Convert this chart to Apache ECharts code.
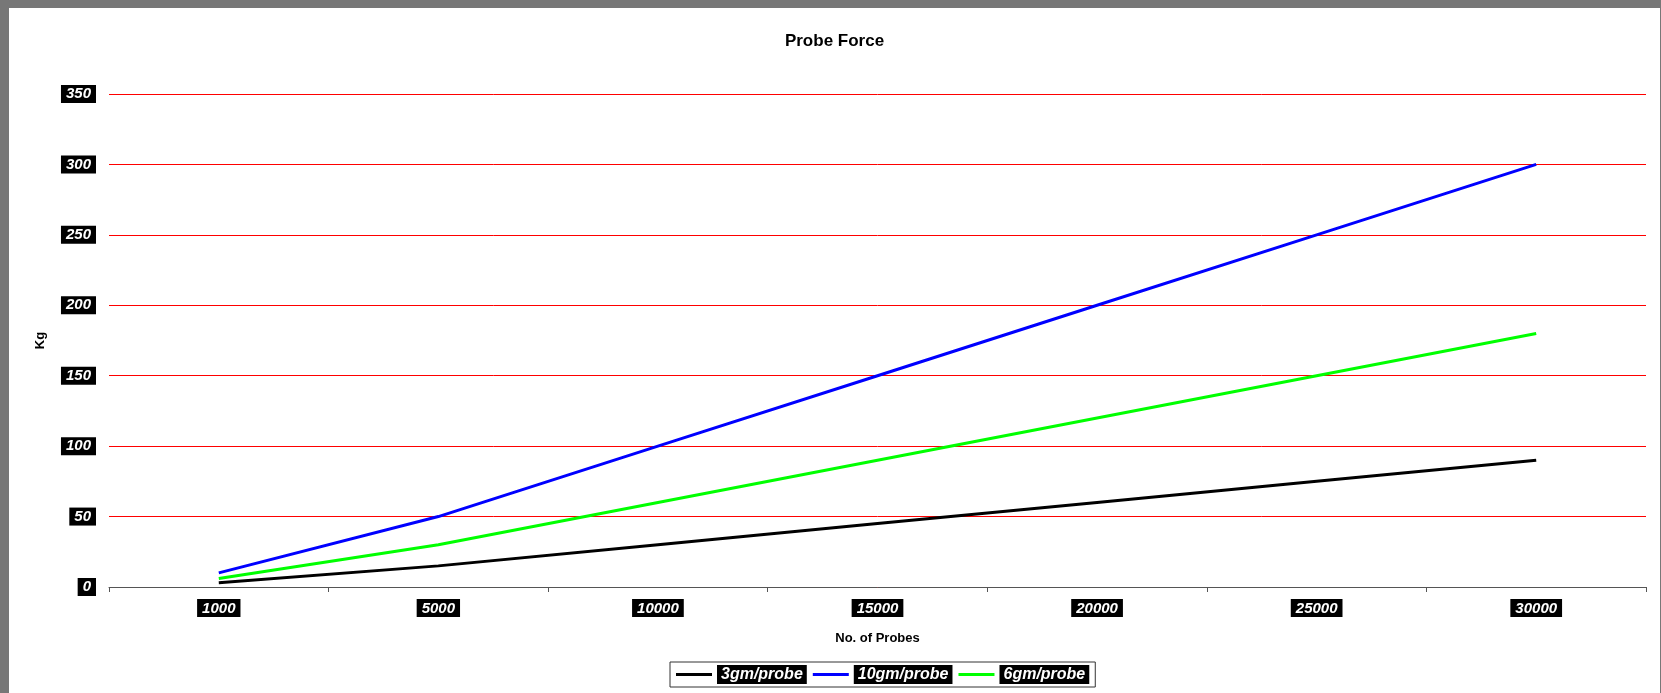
<!DOCTYPE html>
<html>
<head>
<meta charset="utf-8">
<script src="https://cdn.jsdelivr.net/npm/echarts@6/dist/echarts.min.js"></script>
<style>
  html, body { margin: 0; padding: 0; background: #777777; width: 1661px; height: 693px; overflow: hidden; }
  #chart { position: absolute; left: 9px; top: 8px; width: 1651px; height: 685px; background: #ffffff; }
</style>
</head>
<body>
<div id="chart"></div>
<script>
// Probe count categories and force (Kg) for each per-probe load
const probeCounts = ['1000', '5000', '10000', '15000', '20000', '25000', '30000'];
const force3gm = [3, 15, 30, 45, 60, 75, 90];
const force10gm = [10, 50, 100, 150, 200, 250, 300];
const force6gm = [6, 30, 60, 90, 120, 150, 180];

// White bold-italic text on a black tag, used for tick labels and legend
const tagLabel = {
  color: '#ffffff',
  backgroundColor: '#000000',
  fontFamily: 'Liberation Sans, Arial, sans-serif',
  fontStyle: 'italic',
  fontWeight: 'bold',
  fontSize: 15,
  padding: [2, 5, 1, 5]
};

const chart = echarts.init(document.getElementById('chart'));
chart.setOption({
  animation: false,
  backgroundColor: '#ffffff',
  title: {
    text: 'Probe Force',
    left: 'center',
    top: 20,
    textStyle: { fontFamily: 'Liberation Sans, Arial, sans-serif', fontWeight: 'bold', fontSize: 17, color: '#000' }
  },
  grid: { left: 100, right: 14, top: 86, bottom: 106 },
  legend: {
    left: 661,
    top: 654,
    padding: [3, 6, 3, 6],
    itemGap: 6,
    itemWidth: 36,
    itemHeight: 3,
    icon: 'rect',
    borderColor: '#333',
    borderWidth: 1,
    data: ['3gm/probe', '10gm/probe', '6gm/probe'],
    textStyle: Object.assign({}, tagLabel, { fontSize: 16, padding: [2, 4, 1, 4] })
  },
  xAxis: {
    type: 'category',
    data: probeCounts,
    boundaryGap: true,
    name: 'No. of Probes',
    nameLocation: 'middle',
    nameGap: 45,
    nameTextStyle: { fontFamily: 'Liberation Sans, Arial, sans-serif', fontWeight: 'bold', fontSize: 13, color: '#000' },
    axisLine: { lineStyle: { color: '#555', width: 1 } },
    axisTick: { show: true, length: 5, lineStyle: { color: '#555' } },
    axisLabel: Object.assign({ margin: 12 }, tagLabel),
    splitLine: { show: false }
  },
  yAxis: {
    type: 'value',
    min: 0,
    max: 350,
    interval: 50,
    name: 'Kg',
    nameLocation: 'middle',
    nameGap: 62,
    nameTextStyle: { fontFamily: 'Liberation Sans, Arial, sans-serif', fontWeight: 'bold', fontSize: 13, color: '#000' },
    axisLine: { show: false },
    axisTick: { show: false },
    axisLabel: Object.assign({ margin: 13 }, tagLabel),
    splitLine: { lineStyle: { color: '#ff0000', width: 1 } }
  },
  series: [
    { name: '3gm/probe', type: 'line', data: force3gm, symbol: 'none', lineStyle: { color: '#000000', width: 3 }, itemStyle: { color: '#000000' } },
    { name: '10gm/probe', type: 'line', data: force10gm, symbol: 'none', lineStyle: { color: '#0000ff', width: 3 }, itemStyle: { color: '#0000ff' } },
    { name: '6gm/probe', type: 'line', data: force6gm, symbol: 'none', lineStyle: { color: '#00ff00', width: 3 }, itemStyle: { color: '#00ff00' } }
  ]
});
</script>
</body>
</html>
